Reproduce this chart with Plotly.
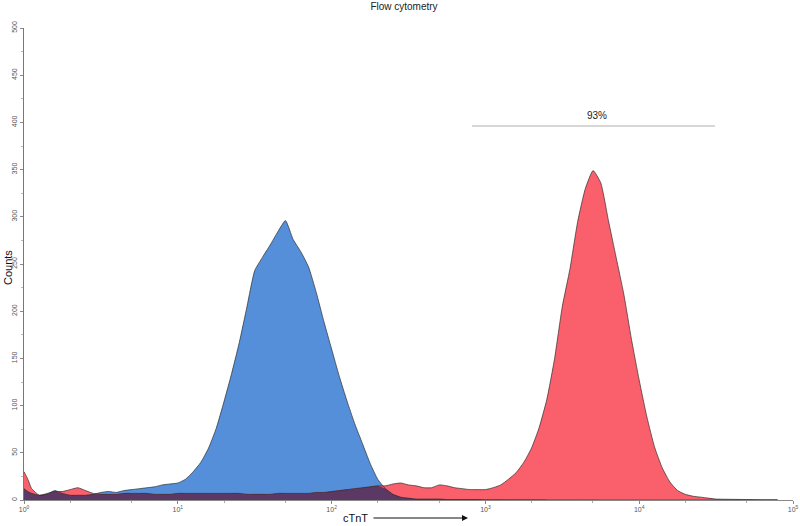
import plotly.graph_objects as go
import numpy as np

# log10 fluorescence intensity (cTnT channel) of the histogram bins
log_intensity = [0.00, 0.025, 0.05, 0.10, 0.15, 0.20, 0.25, 0.30, 0.35, 0.40, 0.45, 0.50,
                 0.55, 0.60, 0.65, 0.70, 0.75, 0.80, 0.85, 0.90, 0.95, 1.00, 1.05, 1.10,
                 1.15, 1.20, 1.25, 1.30, 1.35, 1.40, 1.45, 1.50, 1.55, 1.60, 1.65, 1.70,
                 1.75, 1.80, 1.85, 1.90, 1.95, 2.00, 2.05, 2.10, 2.15, 2.20, 2.25, 2.30,
                 2.35, 2.40, 2.45, 2.50, 2.55, 2.60, 2.65, 2.70, 2.75, 2.80, 2.85, 2.90,
                 2.95, 3.00, 3.05, 3.10, 3.15, 3.20, 3.25, 3.30, 3.35, 3.40, 3.45, 3.50,
                 3.55, 3.60, 3.65, 3.70, 3.75, 3.80, 3.85, 3.90, 3.95, 4.00, 4.05, 4.10,
                 4.15, 4.20, 4.25, 4.30, 4.35, 4.40, 4.45, 4.50, 4.60, 4.70, 4.80, 4.90]

# Counts – control (blue)
control_counts = [12, 9, 7, 5, 6, 10, 7, 5, 5, 5, 6, 8,
                  9, 8, 10, 11, 12, 13, 14, 16, 17, 18, 22, 30,
                  40, 55, 76, 104, 134, 167, 205, 243, 257, 270, 284, 296,
                  276, 263, 247, 220, 189, 160, 131, 105, 81, 60, 39, 22,
                  12, 6, 3, 2, 1, 1, 1, 1, 0.5, 0.5, 0.5, 0.5,
                  0.5, 0.3, 0.3, 0.3, 0.2, 0.2, 0.2, 0.2, 0.2, 0.1, 0.1, 0.1,
                  0.1, 0.1, 0.1, 0.1, 0, 0, 0, 0, 0, 0, 0, 0,
                  0, 0, 0, 0, 0, 0, 0, 0, 0, 0, 0, 0]

# Counts – cTnT stained (red)
ctnt_counts = [30, 22, 12, 5, 7, 9, 9, 11, 13, 10, 7, 6,
               6, 6, 7, 7, 7, 7, 6, 6, 6, 7, 7, 7,
               7, 7, 7, 7, 7, 7, 6, 6, 6, 6, 7, 7,
               7, 7, 7, 8, 8, 9, 10, 11, 12, 13, 14, 15,
               15, 17, 18, 16, 15, 13, 13, 16, 15, 13, 12, 11,
               11, 11, 13, 16, 22, 29, 40, 55, 77, 107, 150, 205,
               245, 295, 330, 349, 336, 296, 257, 218, 170, 127, 88, 56,
               34, 19, 10, 6, 4, 3, 2, 1, 0.7, 0.5, 0.3, 0.2]

gate_label = "93%"
x_tick_labels = ["10<sup>0</sup>", "10<sup>1</sup>", "10<sup>2</sup>",
                 "10<sup>3</sup>", "10<sup>4</sup>", "10<sup>5</sup>"]
y_ticks = list(range(0, 501, 50))

intensity = [10 ** v for v in log_intensity]
overlap = list(np.minimum(control_counts, ctnt_counts))

BLUE = "rgb(85,143,218)"
RED = "rgb(250,96,108)"
PURPLE = "rgb(92,57,100)"
EDGE = "rgba(40,40,40,0.85)"
SHAPE = dict(shape="spline", smoothing=0.5)

fig = go.Figure()
for ys, col in [(control_counts, BLUE), (ctnt_counts, RED), (overlap, PURPLE)]:
    fig.add_trace(go.Scatter(x=intensity, y=ys, mode="lines", fill="tozeroy",
                             fillcolor=col, line=dict(width=0, **SHAPE),
                             showlegend=False, hoverinfo="skip"))
for ys, nm in [(control_counts, "Control"), (ctnt_counts, "cTnT")]:
    fig.add_trace(go.Scatter(x=intensity, y=ys, mode="lines", name=nm,
                             line=dict(color=EDGE, width=0.8, **SHAPE),
                             showlegend=False))

fig.update_layout(
    width=800, height=526,
    margin=dict(l=24, r=7, t=28, b=26, autoexpand=False),
    paper_bgcolor="white", plot_bgcolor="white",
    font=dict(family="Liberation Sans, Arial, sans-serif", color="#222"),
    title=dict(text="Flow cytometry", x=(404 - 24) / 769, xref="paper", xanchor="center",
               y=1 - 6 / 526, yref="container", yanchor="middle", automargin=False,
               font=dict(size=10, color="#222")),
)
fig.update_xaxes(type="log", range=[0, 5], showgrid=False, zeroline=False, automargin=False,
                 showline=True, linecolor="#888", linewidth=1,
                 tickvals=[1, 10, 100, 1000, 10000, 100000], ticktext=x_tick_labels,
                 ticks="outside", ticklen=3, tickcolor="#888",
                 tickfont=dict(size=7, color="#555"),
                 minor=dict(ticks="outside", ticklen=2, tickcolor="#aaa", showgrid=False))
fig.update_yaxes(range=[0, 500], showgrid=False, zeroline=False, automargin=False,
                 showline=True, linecolor="#777", linewidth=1,
                 tickvals=y_ticks, ticks="outside", ticklen=3, tickcolor="#888",
                 tickangle=-90, tickfont=dict(size=7, color="#555"),
                 minor=dict(ticks="outside", ticklen=2, dtick=25, tickcolor="#bbb",
                            showgrid=False))

# gate bar and label
fig.add_shape(type="line", xref="paper", yref="paper",
              x0=(472 - 24) / 769, x1=(715 - 24) / 769,
              y0=(500 - 126) / 472, y1=(500 - 126) / 472,
              line=dict(color="#b0b0b0", width=1.2))
fig.add_annotation(text=gate_label, xref="paper", yref="paper", xanchor="center",
                   yanchor="middle", x=(597 - 24) / 769, y=(500 - 116) / 472,
                   showarrow=False, font=dict(size=10, color="#222"))
# axis titles
fig.add_annotation(text="Counts", xref="paper", yref="paper", x=(8 - 24) / 769,
                   xanchor="center", yanchor="middle",
                   y=(500 - 268) / 472, textangle=-90, showarrow=False,
                   font=dict(size=11, color="#111"))
fig.add_annotation(text="cTnT", xref="paper", yref="paper", x=(355 - 24) / 769,
                   xanchor="center", yanchor="middle", y=(500 - 518) / 472,
                   showarrow=False, font=dict(size=11, color="#111"))
fig.add_annotation(text="", xref="paper", yref="paper", x=(468 - 24) / 769,
                   y=(500 - 518) / 472, ax=-96, ay=0, showarrow=True,
                   arrowhead=2, arrowsize=1, arrowwidth=1.2, arrowcolor="#111")

fig.write_html("out.html", config={"displayModeBar": False},
               post_script="document.body.style.margin='0';document.body.style.overflow='hidden';")
